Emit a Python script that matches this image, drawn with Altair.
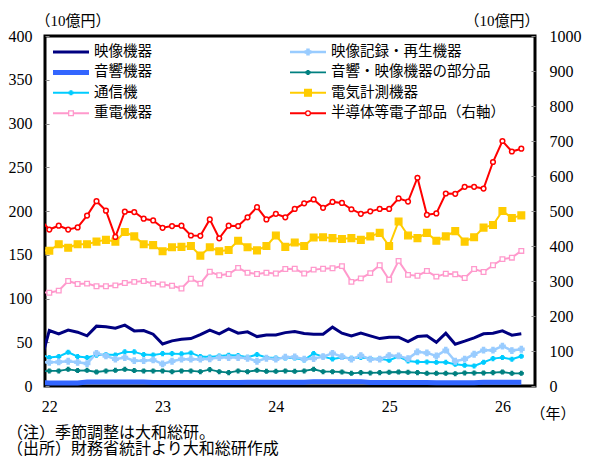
import altair as alt
import pandas as pd

# month index: -1 = Dec 2021 (clipped at the left edge), 0 = Jan 2022 ... 50 = Mar 2026
months = list(range(-1, 51))
x_tick_values = [0, 12, 24, 36, 48]
x_tick_labels = ["22", "23", "24", "25", "26"]
left_ticks = list(range(0, 401, 50))
right_ticks = list(range(0, 1001, 100))

names = ["映像機器", "音響機器", "通信機", "重電機器",
         "映像記録・再生機器", "音響・映像機器の部分品", "電気計測機器", "半導体等電子部品（右軸）"]
colors = ["#000080", "#3366FF", "#00CCFF", "#FF99CC",
          "#99CCFF", "#008080", "#FFCC00", "#FF0000"]
widths = [3, 5, 2, 2, 2.5, 1.8, 2, 2]
shapes = ["circle", "circle", "cross", "square", "cross", "cross", "square", "circle"]
sizes = [0, 0, 14, 22, 30, 14, 45, 22]
fills = ["#000080", "#3366FF", "#00CCFF", "#FFFFFF", "#99CCFF", "#008080", "#FFCC00", "#FFFFFF"]
has_marker = [False, False, True, True, True, True, True, True]

eizo = [24, 63.4, 59.6, 64, 61.5, 57.3, 68.4, 67.6, 66, 69.5, 63, 63.4, 59.2, 48, 51.6, 53.5, 54.2,
        58.8, 63.8, 59.6, 65.3, 60.4, 61.9, 56.5, 58.4, 58.4, 61, 62.3, 60, 59.2, 59.2, 67.3, 60.4,
        57.3, 60.4, 57.3, 54.2, 55.8, 55.8, 50.8, 56.5, 57.3, 50, 60.4, 47.8, 51.2, 55, 59.6, 60.4,
        63, 58.1, 59.6]
onkyo = [4, 3.5, 3.5, 3.5, 3.5, 4.5, 4.5, 4.5, 4.5, 4.5, 4.5, 4.5, 4, 4, 4, 4, 4, 4, 4, 4, 4,
         4, 4.2, 4.2, 4.2, 4.2, 4.2, 4.2, 4.2, 5, 5, 5, 5, 5, 5, 4, 4, 4, 4, 4, 4, 4, 3.8, 3.8,
         3.8, 3.8, 3.8, 4.3, 4.3, 4.3, 4.3, 4.3]
tsushin = [36.5, 32.5, 33.6, 38.6, 33.6, 32.5, 35.2, 35.9, 35.5, 39, 39, 35.9, 35.5, 37, 37, 36.7,
           37.8, 33.6, 33.2, 34.4, 35.2, 34.8, 32.9, 35.9, 32.5, 32.1, 32, 32, 29.8, 37, 33.6, 31,
           32.5, 31.7, 32.5, 31.3, 31, 29.4, 33.6, 28.6, 27.5, 27.5, 27.1, 27.1, 24.8, 23.7, 22.9,
           27.1, 31.3, 32.5, 30.6, 34]
juden = [107, 106.6, 109, 120, 116.5, 117, 114, 114, 115, 117.7, 119, 120, 117, 116, 114.6, 111.5,
         122.6, 117, 130.5, 126.5, 128, 135, 129.5, 128, 129.5, 128.5, 133.7, 134, 128.5, 133, 134,
         134.5, 137, 119, 123, 129, 138, 121.5, 143, 127, 126, 131.4, 125, 128.4, 127.6, 123.4,
         133.7, 130.3, 138, 145, 146.7, 154.4]
kiroku = [27, 27.1, 27.5, 28.3, 27.1, 25.6, 37.4, 34.4, 30.6, 32.5, 29, 29, 29.8, 25.2, 28.3, 30.6,
          30.6, 30.6, 31, 32.5, 32.5, 32.5, 31.7, 28.3, 31.7, 30.6, 32.9, 33.2, 30.6, 31.3, 33.6,
          37.4, 33.6, 30.6, 34.8, 30.6, 30.6, 34.8, 34.4, 31.3, 39, 37.8, 34.4, 40.9, 28.3, 30.6,
          36.3, 40.9, 40.9, 45.5, 40.5, 42]
buhin = [17, 17.2, 17.2, 19.1, 17.6, 17.9, 16, 17.2, 17.9, 19.1, 17.6, 17.2, 17.2, 17.2, 16.4, 17.2,
         17.2, 16.4, 18.7, 16.4, 15.3, 17.2, 16.4, 17.9, 16.8, 16.8, 17.2, 16.8, 17.2, 19.1, 16.4,
         16.4, 16, 14.5, 15.3, 14.9, 15.3, 15.7, 16, 15.7, 15.3, 14.5, 14.5, 14.5, 14.1, 14.9, 14.9,
         14.9, 15.3, 16, 14.5, 14.5]
keisoku = [155, 154.7, 162, 158, 162, 162, 165, 167, 165, 176, 171, 162, 161, 154, 158.5, 159, 160,
           149, 158.5, 154, 155.5, 166, 158.5, 155, 160, 172, 159, 164, 160, 169.6, 170, 169, 168,
           169, 167, 171, 175, 160, 188, 172, 169, 175, 166, 171, 177, 165, 170, 181, 184, 200,
           192, 195]
handotai = [478, 447, 458, 447, 453, 487, 528, 501, 426, 498, 497, 478, 473, 452, 457, 458, 430,
            429, 476, 422, 458, 457, 482, 511, 476, 492, 482, 506, 522, 533, 509, 526, 523, 505,
            492, 499, 506, 506, 536, 527, 595, 489, 493, 550, 549, 569, 569, 564, 640, 700, 670,
            678]

notes = ["（注）季節調整は大和総研。", "（出所）財務省統計より大和総研作成"]

FONT = "Liberation Serif, Noto Sans CJK JP"
W, H = 490, 350
X_DOMAIN = [-0.455, 51.45]

left_values = [eizo, onkyo, tsushin, juden, kiroku, buhin, keisoku]
rows = []
for name, vals in zip(names[:7], left_values):
    for m, v in zip(months, vals):
        rows.append({"idx": m, "series": name, "value": v})
df_left = pd.DataFrame(rows)
df_right = pd.DataFrame({"idx": months, "series": names[7], "value": handotai})

marker_names = [n for n, h in zip(names, has_marker) if h]

label_expr = ""
for v, lab in zip(x_tick_values, x_tick_labels):
    label_expr += f"datum.value == {v} ? '{lab}' : "
label_expr += "''"

color_enc = alt.Color("series:N", scale=alt.Scale(domain=names, range=colors), legend=None)
stroke_enc = alt.Stroke("series:N", scale=alt.Scale(domain=names, range=colors), legend=None)
sw_enc = alt.StrokeWidth("series:N", scale=alt.Scale(type="ordinal", domain=names, range=widths), legend=None)
shape_enc = alt.Shape("series:N", scale=alt.Scale(domain=names, range=shapes), legend=None)
size_enc = alt.Size("series:N", scale=alt.Scale(type="ordinal", domain=names, range=sizes), legend=None)
fill_enc = alt.Fill("series:N", scale=alt.Scale(domain=names, range=fills), legend=None)

x_main = alt.X("idx:Q", scale=alt.Scale(domain=X_DOMAIN, nice=False, zero=False),
               axis=alt.Axis(values=x_tick_values, labelExpr=label_expr, ticks=False, tickSize=0,
                             labelPadding=12, domain=False, grid=False, title="（年）",
                             titleX=485, titleY=27, titleAlign="left", titleBaseline="middle",
                             titleAngle=0))
x_noaxis = alt.X("idx:Q", scale=alt.Scale(domain=X_DOMAIN, nice=False, zero=False), axis=None)

y_left = alt.Y("value:Q", scale=alt.Scale(domain=[0, 400], nice=False),
               axis=alt.Axis(values=left_ticks, format="d", offset=-4, tickSize=4, labelPadding=13,
                             domain=False, grid=False, tickColor="#888888", tickWidth=1,
                             title="（10億円）", titleAngle=0, titleAlign="left",
                             titleBaseline="middle", titleX=-14, titleY=-16))

y_right = alt.Y("value:Q", scale=alt.Scale(domain=[0, 1000], nice=False),
                axis=alt.Axis(orient="right", values=right_ticks, format="d", offset=-4, tickSize=4,
                              labelPadding=14, domain=False, grid=False, tickColor="#888888",
                              tickWidth=1, title="（10億円）", titleAngle=0, titleAlign="right",
                              titleBaseline="middle", titleX=8, titleY=-16))

left_lines = alt.Chart(df_left).mark_line(clip=True).encode(
    x=x_main, y=y_left, color=color_enc, strokeWidth=sw_enc, detail="series:N")
left_points = alt.Chart(df_left).transform_filter(
    alt.FieldOneOfPredicate(field="series", oneOf=marker_names)
).mark_point(clip=True, opacity=1, strokeWidth=1.3).encode(
    x=x_main, y=y_left, stroke=stroke_enc, fill=fill_enc, shape=shape_enc, size=size_enc)
left_chart = alt.layer(left_lines, left_points)

right_lines = alt.Chart(df_right).mark_line(clip=True).encode(
    x=x_noaxis, y=y_right, color=color_enc, strokeWidth=sw_enc)
right_points = alt.Chart(df_right).mark_point(clip=True, opacity=1, strokeWidth=1.5).encode(
    x=x_noaxis, y=y_right, stroke=stroke_enc, fill=fill_enc, shape=shape_enc, size=size_enc)
right_chart = alt.layer(right_lines, right_points)

# hand-built legend (two columns, four rows), in plot pixels
leg = pd.DataFrame({"series": names,
                    "col": [0, 0, 0, 0, 1, 1, 1, 1],
                    "row": [0, 1, 2, 3, 0, 1, 2, 3]})
leg["lx"] = 8 + leg["col"] * 237
leg["lx2"] = leg["lx"] + 36
leg["lmid"] = leg["lx"] + 18
leg["ltx"] = leg["lx"] + 41
leg["ly"] = 16 + leg["row"] * 20.4
leg["has_marker"] = has_marker

px = lambda f: alt.X(f, scale=alt.Scale(domain=[0, W], nice=False, zero=False), axis=None)
py = lambda f: alt.Y(f, scale=alt.Scale(domain=[0, H], nice=False, zero=False, reverse=True), axis=None)

leg_lines = alt.Chart(leg).mark_rule().encode(
    x=px("lx:Q"), x2="lx2:Q", y=py("ly:Q"), color=color_enc, strokeWidth=sw_enc)
leg_points = alt.Chart(leg).transform_filter("datum.has_marker").mark_point(
    opacity=1, strokeWidth=1.3).encode(
    x=px("lmid:Q"), y=py("ly:Q"), stroke=stroke_enc, fill=fill_enc, shape=shape_enc, size=size_enc)
leg_text = alt.Chart(leg).mark_text(align="left", baseline="middle", font=FONT, fontSize=14.5,
                                    color="#000000").encode(
    x=px("ltx:Q"), y=py("ly:Q"), text="series:N")

df_notes = pd.DataFrame({"t": notes, "nx": [-38, -38], "ny": [397, 413]})
notes_text = alt.Chart(df_notes).mark_text(align="left", baseline="middle", font=FONT,
                                           fontSize=16, color="#000000").encode(
    x=px("nx:Q"), y=py("ny:Q"), text="t:N")

legend_chart = alt.layer(leg_lines, leg_points, leg_text, notes_text)

chart = alt.layer(left_chart, right_chart, legend_chart).resolve_scale(
    x="independent", y="independent"
).properties(
    width=W, height=H,
    autosize=alt.AutoSizeParams(type="none"),
    padding={"left": 37, "top": 28, "right": 47, "bottom": 78},
    background="white",
).configure_view(
    stroke="#000000", strokeWidth=3
).configure_axis(
    labelFont=FONT, labelFontSize=16, labelColor="#000000",
    titleFont=FONT, titleFontSize=15, titleFontWeight="normal", titleColor="#000000",
)

chart.save("out.html", embed_options={"renderer": "svg", "actions": False})
